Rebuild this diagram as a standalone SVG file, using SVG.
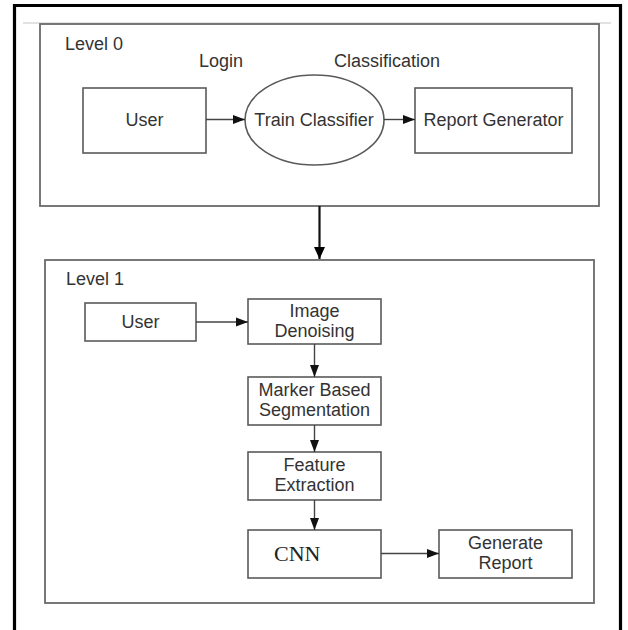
<svg xmlns="http://www.w3.org/2000/svg" width="628" height="630" viewBox="0 0 628 630">
<defs>
<style>
.box{fill:#fff;stroke:#5a5a5a;stroke-width:1.6}
.frame{fill:none;stroke:#6a6a6a;stroke-width:1.8}
.t{font-family:"Liberation Sans",Arial,sans-serif;font-size:18px;fill:#333}
.c{text-anchor:middle}
.serif{font-family:"Liberation Serif","Times New Roman",serif;font-size:22px;fill:#222}
.con{stroke:#444;stroke-width:1.4;fill:none}
.big{stroke:#111;stroke-width:2.2;fill:none}
</style>
<marker id="ah" markerUnits="userSpaceOnUse" markerWidth="12" markerHeight="10" viewBox="0 0 12 10" refX="12" refY="5" orient="auto">
<path d="M0,0.5 L12,5 L0,9.5 Z" fill="#111"/>
</marker>
<marker id="ahb" markerUnits="userSpaceOnUse" markerWidth="12" markerHeight="12" viewBox="0 0 12 12" refX="12" refY="6" orient="auto">
<path d="M0,0.5 L12,6 L0,11.5 Z" fill="#000"/>
</marker>
</defs>
<rect width="628" height="630" fill="#fff"/>
<path d="M14.5,640 V5.5 H620.5 V640" fill="none" stroke="#000" stroke-width="3.2"/>
<line x1="23" y1="23" x2="611" y2="23" stroke="#c4c4c4" stroke-width="1"/>

<g id="level0">
<rect class="frame" x="40" y="24" width="559" height="182"/>
<text class="t" x="65" y="49.5">Level 0</text>
<text class="t" x="199" y="67">Login</text>
<text class="t" x="334" y="67">Classification</text>
</g>
<g id="user0">
<rect class="box" x="83" y="88" width="123" height="65"/>
<text class="t c" x="144.5" y="126">User</text>
</g>
<g id="train">
<ellipse class="box" cx="314.5" cy="120" rx="69.5" ry="45"/>
<text class="t c" x="314" y="126">Train Classifier</text>
</g>
<g id="report0">
<rect class="box" x="415" y="88" width="157" height="65"/>
<text class="t c" x="493.5" y="126">Report Generator</text>
</g>

<g id="level1">
<rect class="frame" x="45" y="260" width="549" height="343"/>
<text class="t" x="66" y="285">Level 1</text>
</g>
<g id="user1">
<rect class="box" x="85" y="303" width="111" height="38"/>
<text class="t c" x="140.5" y="328">User</text>
</g>
<g id="denoise">
<rect class="box" x="248" y="299" width="133" height="45"/>
<text class="t c" x="314.5" y="317">Image</text>
<text class="t c" x="314.5" y="337">Denoising</text>
</g>
<g id="marker">
<rect class="box" x="248" y="377" width="133" height="48"/>
<text class="t c" x="314.5" y="396">Marker Based</text>
<text class="t c" x="314.5" y="416">Segmentation</text>
</g>
<g id="feature">
<rect class="box" x="248" y="452" width="133" height="48"/>
<text class="t c" x="314.5" y="471">Feature</text>
<text class="t c" x="314.5" y="491">Extraction</text>
</g>
<g id="cnn">
<rect class="box" x="248" y="530" width="133" height="48"/>
<text class="serif" x="274" y="561">CNN</text>
</g>
<g id="generate">
<rect class="box" x="439" y="530" width="133" height="48"/>
<text class="t c" x="505.5" y="549">Generate</text>
<text class="t c" x="505.5" y="569">Report</text>
</g>

<g id="connectors">
<line class="con" x1="206" y1="119.5" x2="245" y2="119.5" marker-end="url(#ah)"/>
<line class="con" x1="384" y1="119.5" x2="415" y2="119.5" marker-end="url(#ah)"/>
<line class="big" x1="319.5" y1="206" x2="319.5" y2="259" marker-end="url(#ahb)"/>
<line class="con" x1="196" y1="322" x2="248" y2="322" marker-end="url(#ah)"/>
<line class="con" x1="314.5" y1="344" x2="314.5" y2="377" marker-end="url(#ah)"/>
<line class="con" x1="314.5" y1="425" x2="314.5" y2="452" marker-end="url(#ah)"/>
<line class="con" x1="314.5" y1="500" x2="314.5" y2="530" marker-end="url(#ah)"/>
<line class="con" x1="381" y1="553.5" x2="439" y2="553.5" marker-end="url(#ah)"/>
</g>
</svg>
